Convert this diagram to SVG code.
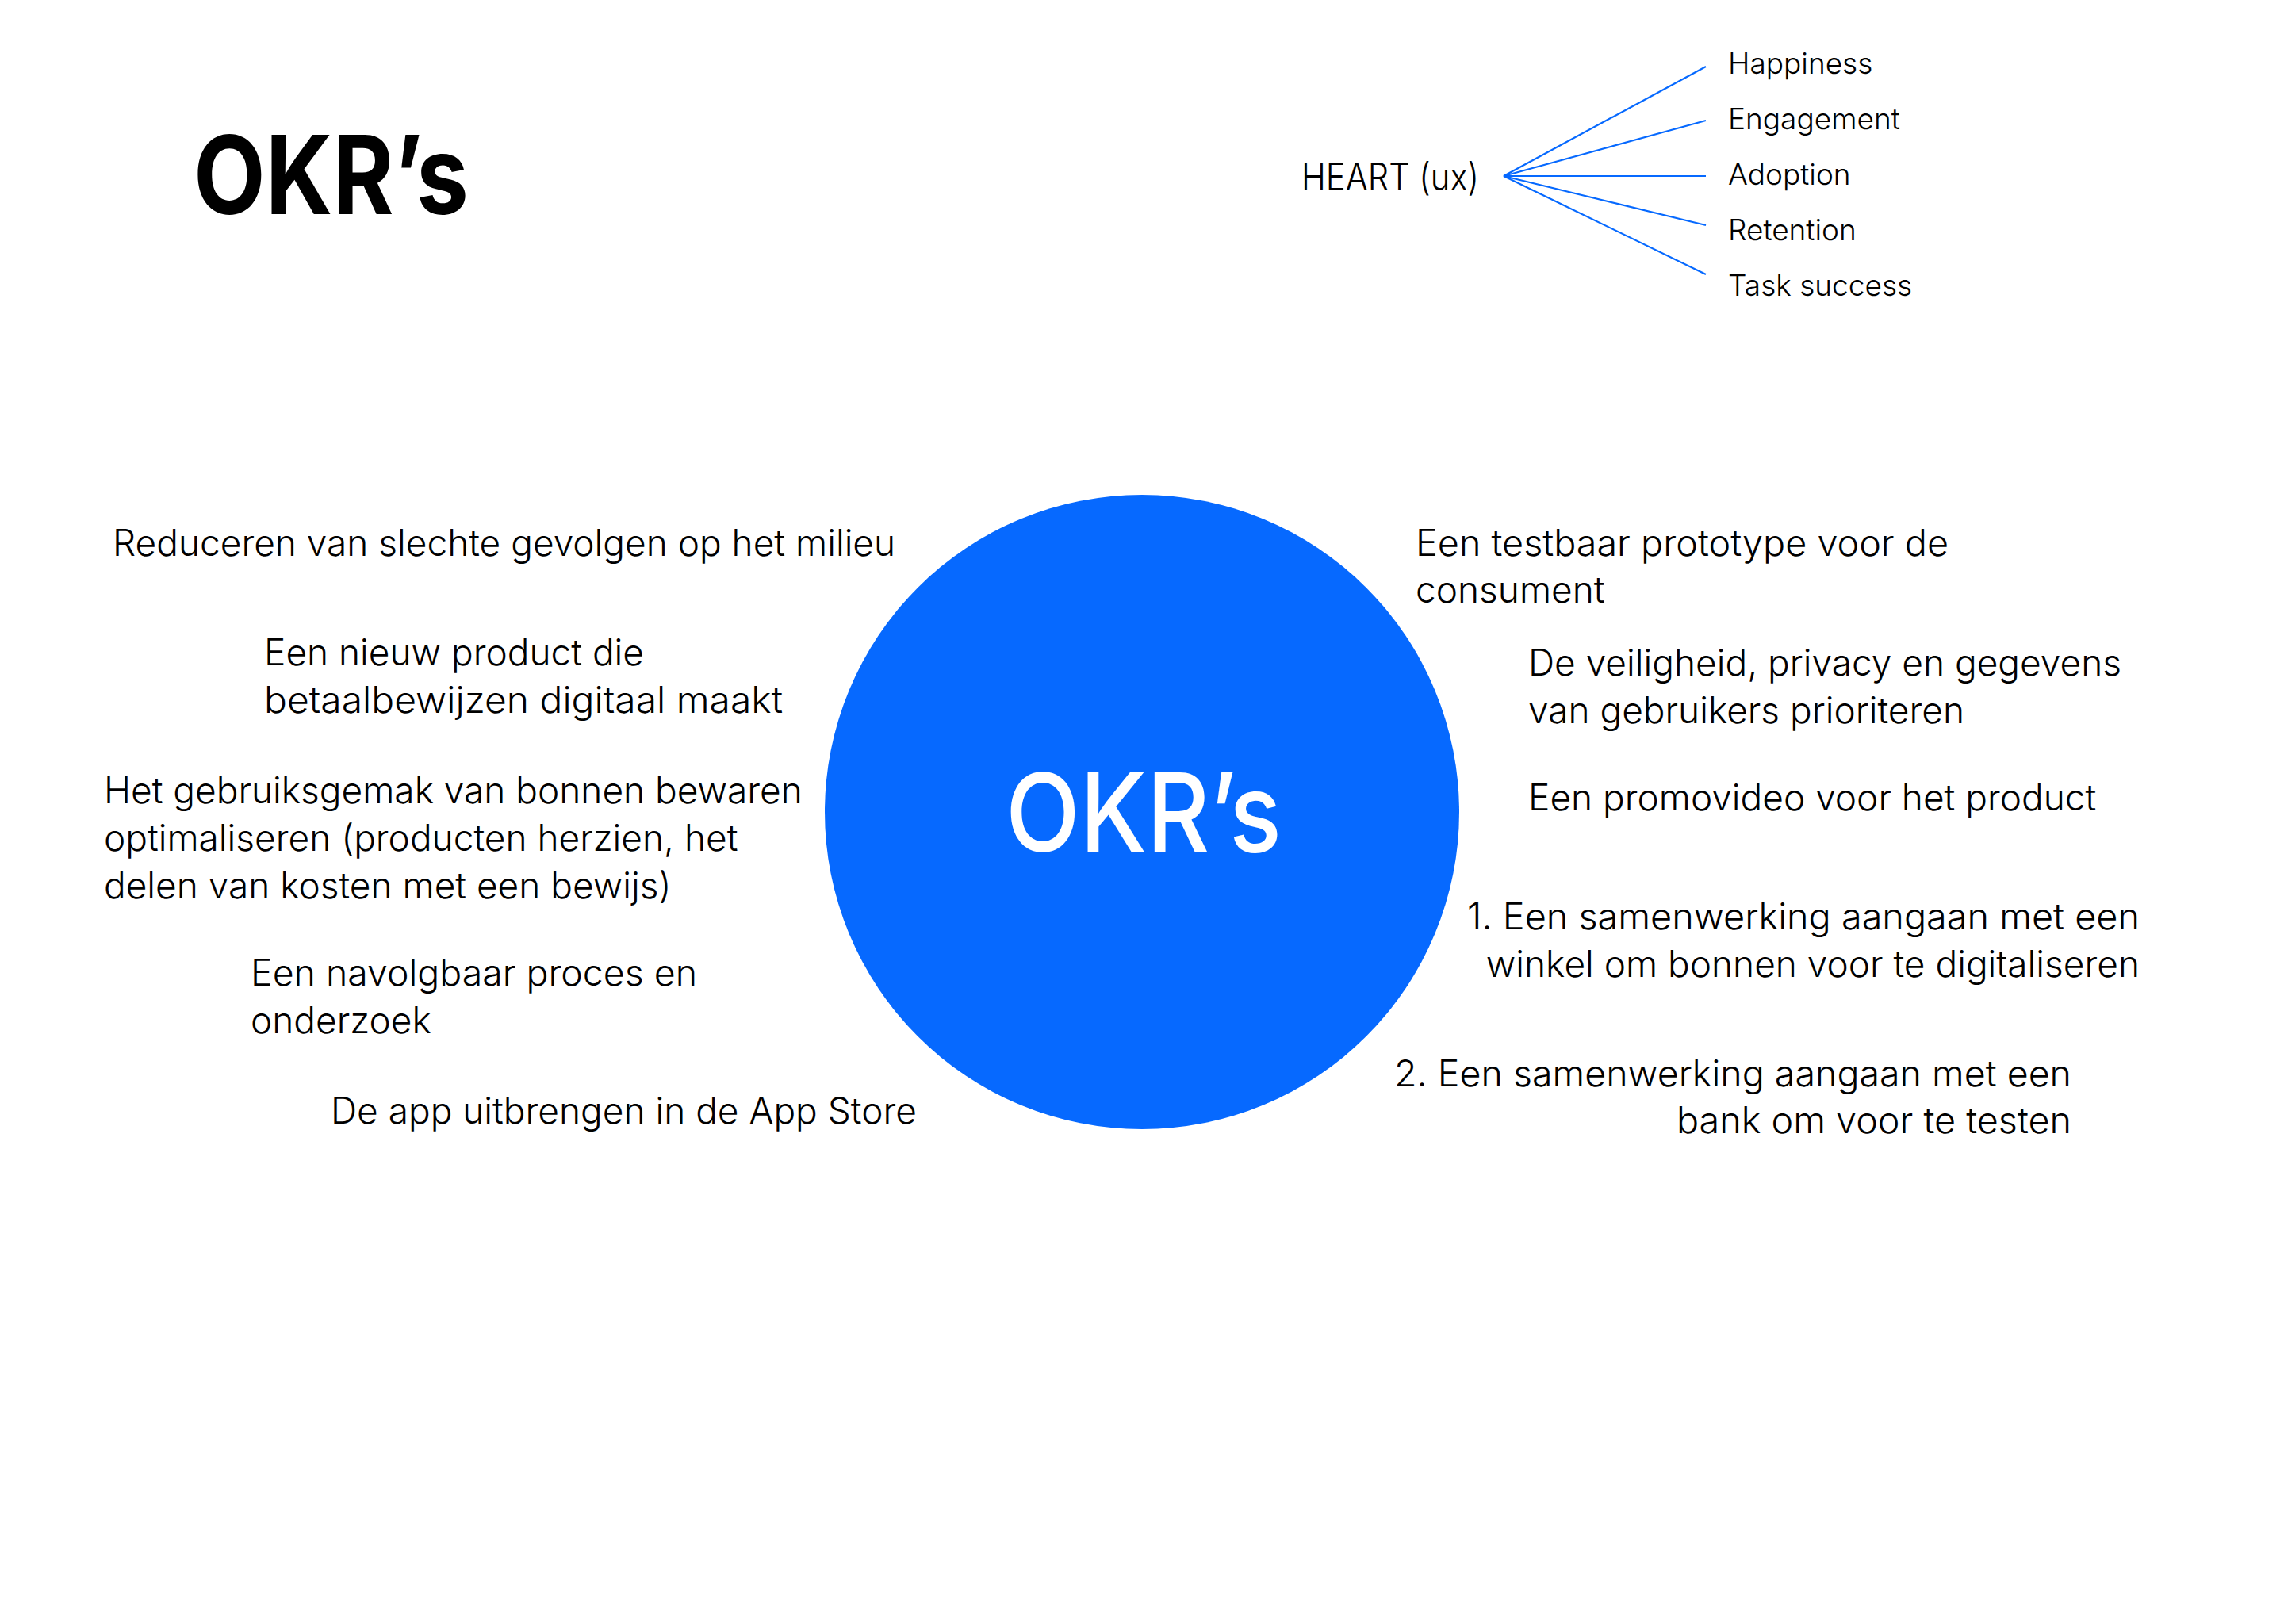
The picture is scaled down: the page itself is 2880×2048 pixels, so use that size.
<svg xmlns="http://www.w3.org/2000/svg" width="2880" height="2048" viewBox="0 0 2880 2048">
<style>
.t{font-family:Inter,"Liberation Sans",sans-serif;font-weight:300;font-size:46px;fill:#000}
.h{font-family:Inter,"Liberation Sans",sans-serif;font-weight:300;font-size:37px;fill:#000}
.big{font-family:Inter,"Liberation Sans",sans-serif;font-size:137px}
.ln{stroke:#0669ff;stroke-width:2.2;fill:none}
</style>
<rect width="2880" height="2048" fill="#fff"/>
<g id="title"><text class="big" x="244" y="270" font-weight="700" fill="#000" textLength="347" lengthAdjust="spacingAndGlyphs">OKR’s</text></g>
<g id="center"><circle cx="1440" cy="1024" r="400" fill="#0669ff"/><text class="big" x="1268" y="1074" font-weight="500" fill="#fff" textLength="348" lengthAdjust="spacingAndGlyphs">OKR’s</text></g>
<g id="heart"><text x="1641" y="240" class="t" style="font-size:48px" textLength="224" lengthAdjust="spacingAndGlyphs">HEART (ux)</text></g>
<g id="connectors">
<line class="ln" x1="1896" y1="222" x2="2151" y2="84"/>
<line class="ln" x1="1896" y1="222" x2="2151" y2="152"/>
<line class="ln" x1="1896" y1="222" x2="2151" y2="222"/>
<line class="ln" x1="1896" y1="222" x2="2151" y2="284"/>
<line class="ln" x1="1896" y1="222" x2="2151" y2="346"/>
</g>
<g id="happiness"><text class="h" x="2179" y="93">Happiness</text></g>
<g id="engagement"><text class="h" x="2179" y="163">Engagement</text></g>
<g id="adoption"><text class="h" x="2179" y="233">Adoption</text></g>
<g id="retention"><text class="h" x="2179" y="303">Retention</text></g>
<g id="task-success"><text class="h" x="2179" y="373">Task success</text></g>
<g id="okr-milieu"><text class="t" x="142" y="701">Reduceren van slechte gevolgen op het milieu</text></g>
<g id="okr-product"><text class="t" x="333" y="839">Een nieuw product die</text><text class="t" x="333" y="899" textLength="654" lengthAdjust="spacingAndGlyphs">betaalbewijzen digitaal maakt</text></g>
<g id="okr-gebruiksgemak"><text class="t" x="131" y="1013">Het gebruiksgemak van bonnen bewaren</text><text class="t" x="131" y="1073">optimaliseren (producten herzien, het</text><text class="t" x="131" y="1133">delen van kosten met een bewijs)</text></g>
<g id="okr-proces"><text class="t" x="316" y="1243" textLength="563" lengthAdjust="spacingAndGlyphs">Een navolgbaar proces en</text><text class="t" x="316" y="1303">onderzoek</text></g>
<g id="okr-appstore"><text class="t" x="417" y="1417">De app uitbrengen in de App Store</text></g>
<g id="okr-prototype"><text class="t" x="1785" y="701" textLength="672" lengthAdjust="spacingAndGlyphs">Een testbaar prototype voor de</text><text class="t" x="1785" y="760">consument</text></g>
<g id="okr-privacy"><text class="t" x="1927" y="852">De veiligheid, privacy en gegevens</text><text class="t" x="1927" y="912">van gebruikers prioriteren</text></g>
<g id="okr-promovideo"><text class="t" x="1927" y="1022">Een promovideo voor het product</text></g>
<g id="okr-winkel"><text class="t" x="1850" y="1172" textLength="848" lengthAdjust="spacingAndGlyphs">1. Een samenwerking aangaan met een</text><text class="t" x="2698" y="1232" text-anchor="end">winkel om bonnen voor te digitaliseren</text></g>
<g id="okr-bank"><text class="t" x="1758" y="1370" textLength="854" lengthAdjust="spacingAndGlyphs">2. Een samenwerking aangaan met een</text><text class="t" x="2114" y="1429" textLength="498" lengthAdjust="spacingAndGlyphs">bank om voor te testen</text></g>
</svg>
